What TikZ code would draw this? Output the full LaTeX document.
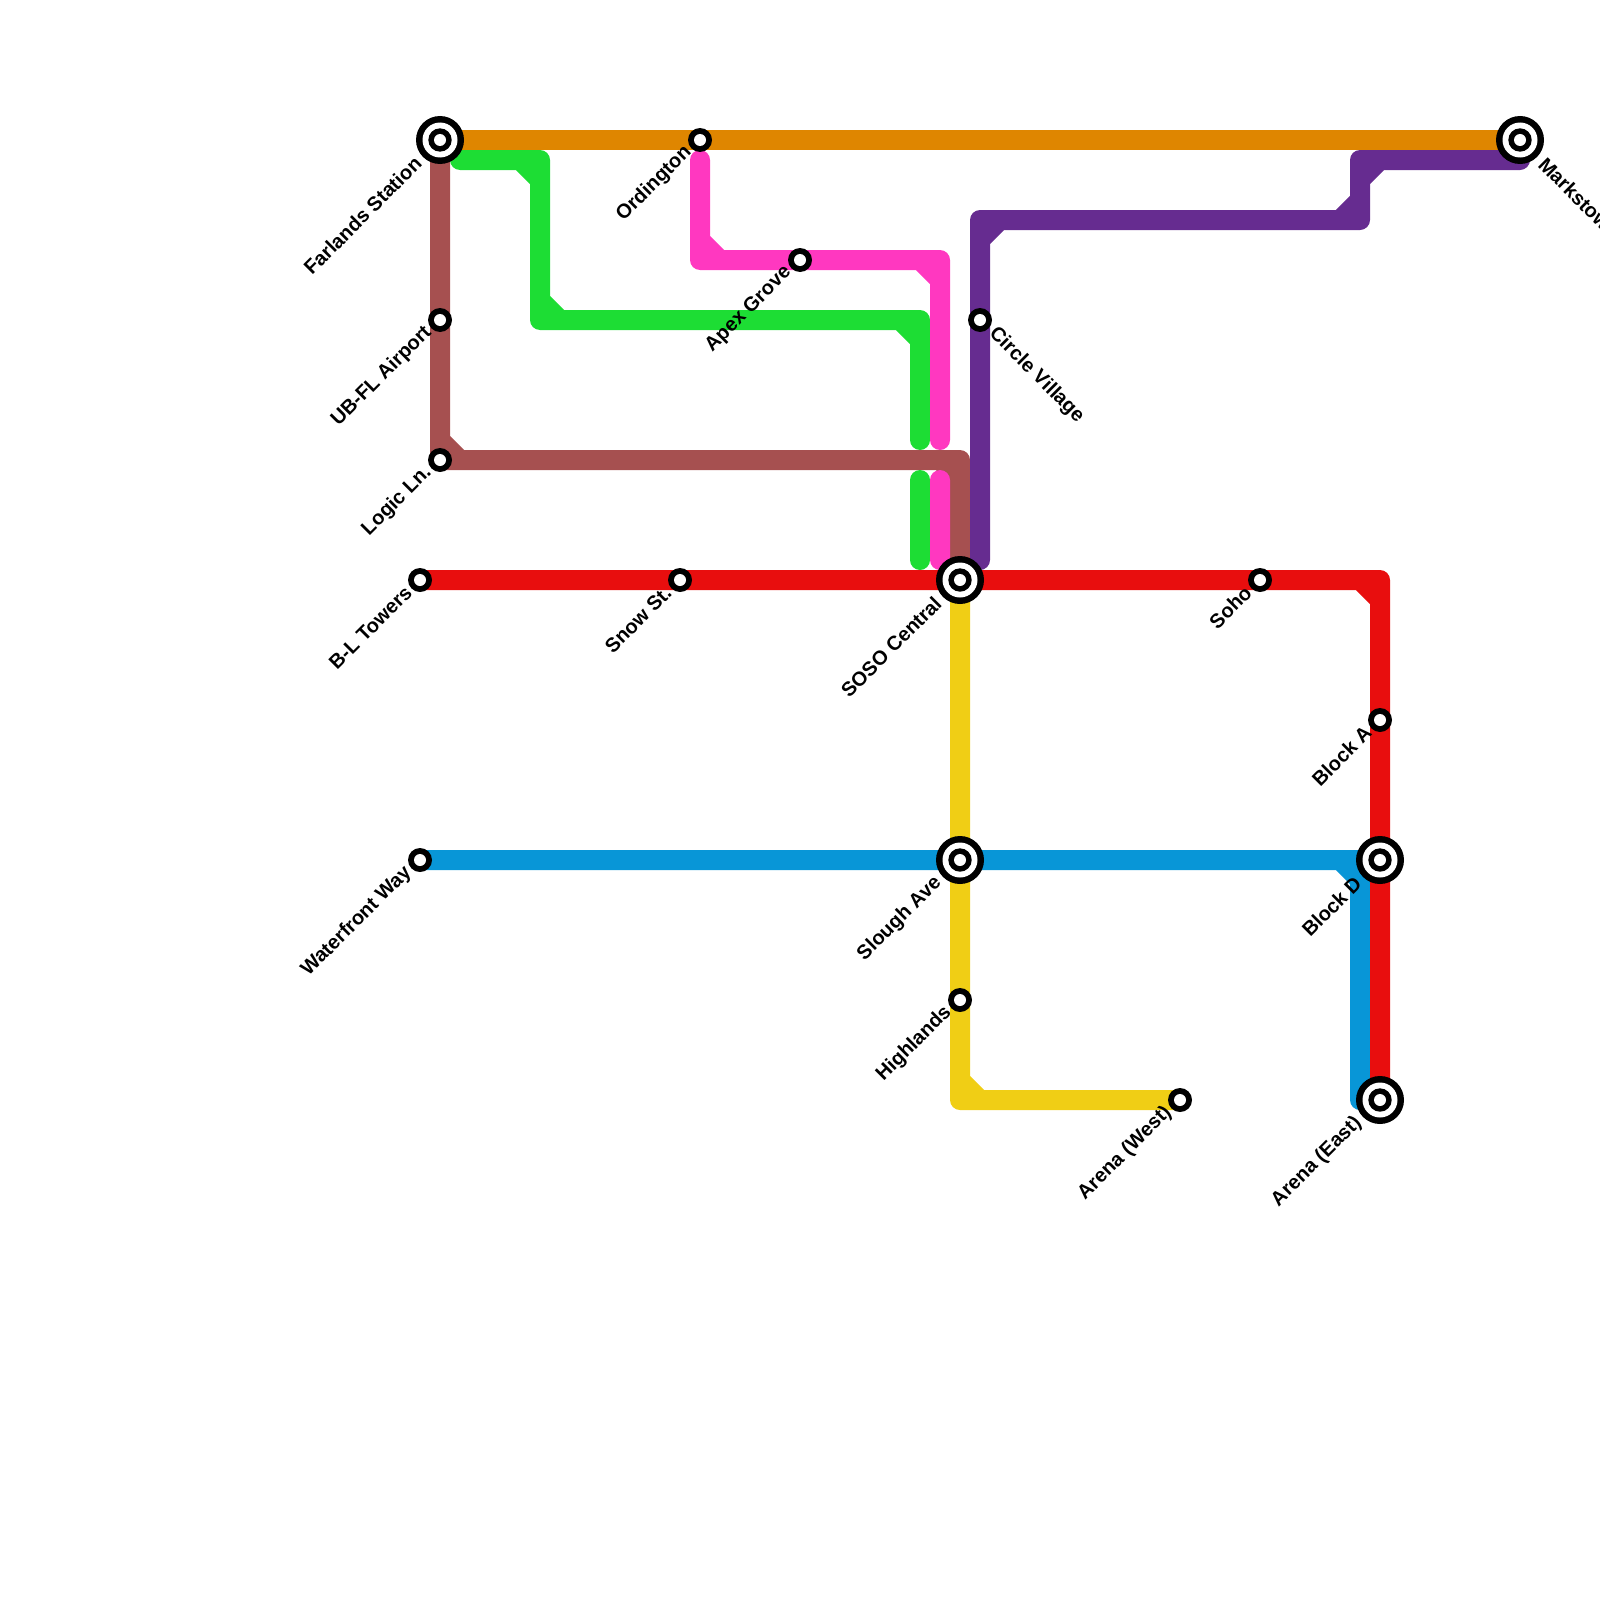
\documentclass[tikz,border=0pt]{standalone}
\usepackage{fontspec}
\setmainfont{Liberation Sans}
\definecolor{cOrange}{HTML}{DF8600}
\definecolor{cGreen}{HTML}{1DDD34}
\definecolor{cBrown}{HTML}{A65050}
\definecolor{cPink}{HTML}{FF38C0}
\definecolor{cPurple}{HTML}{662C90}
\definecolor{cRed}{HTML}{E80E0E}
\definecolor{cBlue}{HTML}{0896D7}
\definecolor{cYellow}{HTML}{F0CE15}
\tikzset{
  route/.style={line width=20pt,line cap=round,line join=round},
  lbl/.style={font=\bfseries\fontsize{20}{20}\selectfont,inner sep=0pt,text=black},
  upl/.style={lbl,rotate=45,anchor=east},
  dnr/.style={lbl,rotate=-45,anchor=west},
}
\newcommand{\smallst}[3]{%
  \node[circle,fill=black,minimum size=24pt,inner sep=0pt] (#1) at (#2,#3) {};
  \fill[white] (#1.center) circle (6pt);}
\newcommand{\bigst}[3]{%
  \node[circle,fill=black,minimum size=48pt,inner sep=0pt] (#1) at (#2,#3) {};
  \fill[white] (#1.center) circle (17.5pt);
  \fill[black] (#1.center) circle (11.7pt);
  \fill[white] (#1.center) circle (6pt);}
\begin{document}
\begin{tikzpicture}[x=1pt,y=-1pt]
\useasboundingbox (0,0) rectangle (1600,1600);
\clip (0,0) rectangle (1600,1600);
% routes
\draw[route,cBrown] (440,140) -- (440,460) -- (960,460) -- (960,580)
  (440,440) -- (460,460) (940,460) -- (960,480);
\draw[route,cGreen] (460,160) -- (540,160) -- (540,320) -- (920,320) -- (920,440)
  (520,160) -- (540,180) (540,300) -- (560,320) (900,320) -- (920,340)
  (920,480) -- (920,560);
\draw[route,cPink] (700,160) -- (700,260) -- (940,260) -- (940,440)
  (700,240) -- (720,260) (920,260) -- (940,280)
  (940,480) -- (940,560);
\draw[route,cPurple] (980,560) -- (980,220) -- (1360,220) -- (1360,160) -- (1520,160)
  (980,240) -- (1000,220) (1340,220) -- (1360,200) (1360,180) -- (1380,160);
\draw[route,cOrange] (440,140) -- (1520,140);
\draw[route,cYellow] (960,580) -- (960,1100) -- (1180,1100) (960,1080) -- (980,1100);
\draw[route,cBlue] (420,860) -- (1360,860) -- (1360,1100) (1340,860) -- (1360,880);
\draw[route,cRed] (420,580) -- (1380,580) -- (1380,1100) (1360,580) -- (1380,600);
% stations
\bigst{farlands}{440}{140}
\bigst{markstown}{1520}{140}
\bigst{soso}{960}{580}
\bigst{slough}{960}{860}
\bigst{blockd}{1380}{860}
\bigst{arenae}{1380}{1100}
\smallst{ordington}{700}{140}
\smallst{apex}{800}{260}
\smallst{circlev}{980}{320}
\smallst{ubfl}{440}{320}
\smallst{logic}{440}{460}
\smallst{bl}{420}{580}
\smallst{snow}{680}{580}
\smallst{sohost}{1260}{580}
\smallst{blocka}{1380}{720}
\smallst{waterfront}{420}{860}
\smallst{highlands}{960}{1000}
\smallst{arenaw}{1180}{1100}
% labels
\node[upl] (t1) at (418,160) {Farlands Station};
\node[upl] (t2) at (428.5,329.5) {UB-FL Airport};
\node[upl] (t3) at (428.5,469.5) {Logic Ln.};
\node[upl] (t4) at (408.5,589.5) {B-L Towers};
\node[upl] (t5) at (668,589.5) {Snow St.};
\node[upl] (t6) at (688.5,149.5) {Ordington};
\node[upl] (t7) at (788.5,269.5) {Apex Grove};
\node[upl] (t8) at (938,600) {SOSO Central};
\node[upl] (t9) at (1248,589.5) {Soho};
\node[upl] (t10) at (1368,729.5) {Block A};
\node[upl] (t11) at (1358,880) {Block D};
\node[upl] (t12) at (408.5,869.5) {Waterfront Way};
\node[upl] (t13) at (938.5,880) {Slough Ave};
\node[upl] (t14) at (948.5,1009.5) {Highlands};
\node[upl] (t15) at (1168.5,1109.5) {Arena (West)};
\node[upl] (t16) at (1358.5,1120) {Arena (East)};
\node[dnr] (t17) at (992,331) {Circle Village};
\node[dnr] (t18) at (1542,161) {Markstown};
\end{tikzpicture}
\end{document}
